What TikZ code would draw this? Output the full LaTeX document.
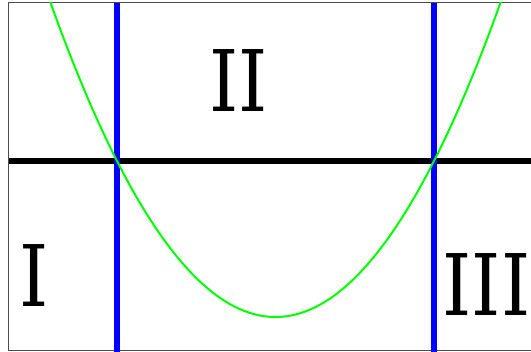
\documentclass[tikz,border=0pt]{standalone}
\usepackage{fontspec}
\setmainfont{DejaVu Serif}
\begin{document}
\begin{tikzpicture}[x=1pt,y=-1pt,
  frame/.style={draw=black!70,line width=1pt},
  axisline/.style={line width=6pt,black},
  bound/.style={line width=6pt,blue},
  curve/.style={line width=2pt,green},
  region/.style={font=\fontsize{85}{85}\selectfont,inner sep=0pt,anchor=center,xscale=0.87}]
\useasboundingbox (0,0) rectangle (531,352);
\draw[frame] (545,3) -- (8.5,3) -- (8.5,351) -- (545,351);
\coordinate (hl) at (8.5,161.5);
\coordinate (hr) at (531,161.5);
\coordinate (b1t) at (117,3);
\coordinate (b1b) at (117,352);
\coordinate (b2t) at (434,3);
\coordinate (b2b) at (434,352);
\draw[axisline] (hl) -- (hr);
\draw[bound] (b1t) -- (b1b);
\draw[bound] (b2t) -- (b2b);
\begin{scope}
\clip (8.5,3) rectangle (531,351);
\draw[curve] plot[domain=45:506,samples=120,smooth] (\x,{317-156*((\x-275.5)/158.5)^2});
\end{scope}
\node[region] (r1) at (34,276) {I};
\node[region] (r2) at (238.5,80.5) {II};
\node[region] (r3) at (486.5,284.5) {III};
\end{tikzpicture}
\end{document}
